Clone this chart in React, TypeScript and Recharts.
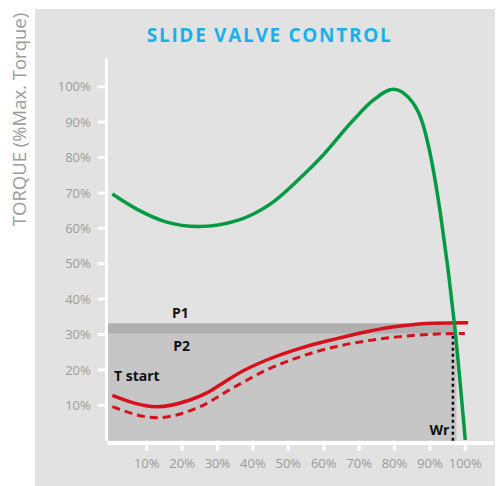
import React from 'react';
import { ComposedChart, Line, XAxis, YAxis, ReferenceArea, ReferenceLine, ReferenceDot } from 'recharts';

const title = 'SLIDE VALVE CONTROL';
const yAxisTitle = 'TORQUE (%Max. Torque)';

const xTicks = [10, 20, 30, 40, 50, 60, 70, 80, 90, 100];
const yTicks = [10, 20, 30, 40, 50, 60, 70, 80, 90, 100];

// motor torque curve (green)
const motorX = [0.3, 7.6, 15.2, 24.6, 35.9, 45.3, 54.7, 59.0, 68.4, 74.0, 79.7, 85.3, 88.0, 90.5, 93.0, 96.9, 100];
const motorY = [69.7, 65.2, 61.9, 60.5, 62.3, 67.1, 75.5, 79.8, 90.6, 96.2, 99.3, 95.3, 89.5, 79.0, 64.0, 33.3, 0.2];

// load torque P1 (solid red)
const p1X = [0.3, 12.8, 22.2, 27, 32, 37, 43.9, 53.3, 62.7, 72.1, 81.6, 91, 100.8];
const p1Y = [12.8, 9.6, 11.5, 13.5, 16.6, 19.6, 22.8, 26.1, 28.6, 30.8, 32.4, 33.2, 33.3];

// load torque P2 (dashed red)
const p2X = [0.3, 12.8, 25, 34.5, 43.9, 53.3, 62.7, 72.1, 81.6, 91, 99.9];
const p2Y = [9.6, 6.5, 9.6, 15, 20, 23.7, 26.4, 28.2, 29.4, 30.1, 30.3];

// shaded bands
const bandStart = -1;
const bandEnd = 97.5;
const p2Level = 30.2;
const p1Level = 33.2;

// Wr marker
const wrX = 96.5;
const wrTop = 30.3;

// text labels
const labelTexts = ['P1', 'P2', 'T start', 'Wr'];
const labelX = [19.5, 19.9, 7.2, 92.7];
const labelY = [34.6, 25.3, 16.9, 1.6];

const toSeries = (xs: number[], ys: number[]) => xs.map((x, i) => ({ x, y: ys[i] }));
const motorData = toSeries(motorX, motorY);
const p1Data = toSeries(p1X, p1Y);
const p2Data = toSeries(p2X, p2Y);

const tickStyle = { fill: '#9b9b9b', fontSize: 13, fontFamily: 'Open Sans' };

export default function App() {
  return (
    <div style={{ position: 'absolute', left: 0, top: 0, width: 497, height: 486, background: '#fff' }}>
      <div style={{ position: 'absolute', left: 35, top: 9, width: 460, height: 477, background: '#e2e2e2' }} />
      <svg width={497} height={486} style={{ position: 'absolute', left: 0, top: 0 }}>
        <text x={269.6} y={42} textAnchor="middle" fill="#1ab1e9" fontFamily="Open Sans" fontWeight={700} fontSize={19} letterSpacing={1.7}>
          {title}
        </text>
        <text
          transform="translate(26,119.5) rotate(-90)"
          x={0}
          y={0}
          textAnchor="middle"
          fill="#9b9b9b"
          fontFamily="Open Sans"
          fontSize={18.5}
        >
          {yAxisTitle}
        </text>
      </svg>
      <div style={{ position: 'absolute', left: 0, top: 0 }}>
        <ComposedChart width={497} height={486} margin={{ top: 58.4, right: 3.4, bottom: 0, left: 0 }}>
          <ReferenceArea x1={bandStart} x2={bandEnd} y1={0} y2={p2Level} fill="#c6c6c6" fillOpacity={1} stroke="none" />
          <ReferenceArea x1={bandStart} x2={bandEnd} y1={p2Level} y2={p1Level} fill="#b0b0b0" fillOpacity={1} stroke="none" />
          <XAxis
            type="number"
            dataKey="x"
            domain={[-1, 108]}
            ticks={xTicks}
            allowDataOverflow
            height={45.3}
            tickFormatter={(v: number) => `${v}%`}
            tick={tickStyle}
            tickSize={10}
            tickMargin={8}
            tickLine={{ stroke: '#fff', strokeWidth: 3 }}
            axisLine={{ stroke: '#fff', strokeWidth: 4, transform: 'translate(0 2.3)' }}
          />
          <YAxis
            type="number"
            domain={[0, 108]}
            ticks={yTicks}
            allowDataOverflow
            width={107.76}
            tickFormatter={(v: number) => `${v}%`}
            tick={tickStyle}
            tickSize={10}
            tickMargin={7}
            tickLine={{ stroke: '#fff', strokeWidth: 3 }}
            axisLine={{ stroke: '#fff', strokeWidth: 3, transform: 'translate(-1.3 0)' }}
          />
          <ReferenceLine
            segment={[{ x: wrX, y: 0 }, { x: wrX, y: wrTop }]}
            stroke="#111"
            strokeWidth={2.5}
            strokeDasharray="3 3"
          />
          <Line data={p2Data} dataKey="y" type="monotone" stroke="#d7101e" strokeWidth={3} strokeDasharray="8 5" dot={false} isAnimationActive={false} />
          <Line data={p1Data} dataKey="y" type="monotone" stroke="#d7101e" strokeWidth={3.5} dot={false} isAnimationActive={false} />
          <Line data={motorData} dataKey="y" type="monotone" stroke="#009a44" strokeWidth={3.5} dot={false} isAnimationActive={false} />
          {labelTexts.map((t, i) => (
            <ReferenceDot
              key={t}
              x={labelX[i]}
              y={labelY[i]}
              r={0}
              shape={(p: any) => (
                <text x={p.cx} y={p.cy} textAnchor="middle" fill="#111" fontFamily="Open Sans" fontWeight={700} fontSize={14}>
                  {t}
                </text>
              )}
            />
          ))}
        </ComposedChart>
      </div>
    </div>
  );
}
